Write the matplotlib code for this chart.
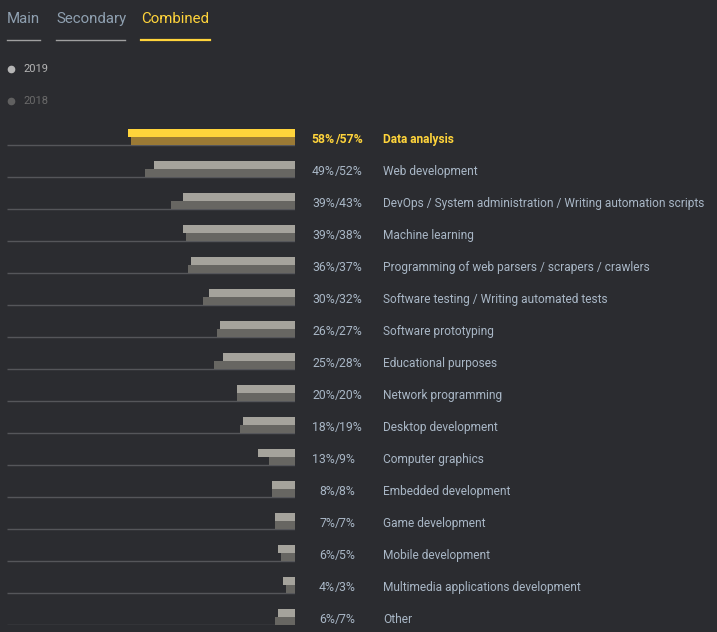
import matplotlib
matplotlib.use("Agg")
import matplotlib.pyplot as plt
from matplotlib import transforms

categories = [
    "Data analysis", "Web development",
    "DevOps / System administration / Writing automation scripts",
    "Machine learning", "Programming of web parsers / scrapers / crawlers",
    "Software testing / Writing automated tests", "Software prototyping",
    "Educational purposes", "Network programming", "Desktop development",
    "Computer graphics", "Embedded development", "Game development",
    "Mobile development", "Multimedia applications development", "Other",
]
values_2019 = [58, 49, 39, 39, 36, 30, 26, 25, 20, 18, 13, 8, 7, 6, 4, 6]
values_2018 = [57, 52, 43, 38, 37, 32, 27, 28, 20, 19, 9, 8, 7, 5, 3, 7]
tabs = ["Main", "Secondary", "Combined"]
years = ["2019", "2018"]

W, H = 717, 632
BG = "#2b2c30"
C19 = "#a5a39c"
C18 = "#676662"
Y19 = "#ffd43b"
Y18 = "#9b7a35"
TXT = "#a9b7c6"
LINE = "#55565a"

plt.rcParams["font.family"] = ["Roboto", "DejaVu Sans"]
fig = plt.figure(figsize=(W / 100, H / 100), dpi=100, facecolor=BG)

def fx(px):
    return px / W

def fy(py):
    return 1 - py / H

# Tabs
tab_x = [7, 56, 141]
tab_w = [33, 69, 69]
for i, (t, x, w) in enumerate(zip(tabs, tab_x, tab_w)):
    active = (t == "Combined")
    fig.text(fx(x), fy(19), t, fontsize=10.8, color=Y19 if active else "#8fa0b0",
             va="center", ha="left")
    fig.add_artist(plt.Line2D([fx(x), fx(x + w)], [fy(40), fy(40)],
                              color=Y19 if active else "#a0a0a0",
                              linewidth=1.6 if active else 1.0))

# Legend
for yr, py, col, tcol in zip(years, [69, 101], ["#b5b5b5", "#606060"], ["#b5b5b5", "#6a6a6a"]):
    fig.add_artist(plt.Line2D([fx(11)], [fy(py)], marker="o", markersize=4.5,
                              color=col, linestyle="none"))
    fig.text(fx(23), fy(py), yr, fontsize=8, color=tcol, va="center", ha="left")

# Bars axes: x 7..295 px, y 113..625 px
left, right, top, bottom = 7, 295, 113, 625
ax = fig.add_axes([fx(left), fy(bottom), fx(right - left), (bottom - top) / H])
ax.set_facecolor("none")
ax.set_xlim(100, 0)
n = len(categories)
ax.set_ylim(n, 0)
ax.axis("off")

rows = list(range(n))
ax.hlines([r + 1 for r in rows], 100, 0, color=LINE, linewidth=1.0, zorder=1)
c19 = [Y19] + [C19] * (n - 1)
c18 = [Y18] + [C18] * (n - 1)
ax.barh([r + 0.625 for r in rows], values_2019, height=0.25, color=c19, zorder=3, linewidth=0)
ax.barh([r + 0.875 for r in rows], values_2018, height=0.25, color=c18, zorder=2, linewidth=0)

# Labels
tr_slash = transforms.blended_transform_factory(fig.transFigure, ax.transData)
for r, (cat, v19, v18) in enumerate(zip(categories, values_2019, values_2018)):
    y = r + 0.84
    hi = (r == 0)
    col = Y19 if hi else TXT
    wt = "bold" if hi else "normal"
    ax.text(fx(335), y, f"{v19}%", transform=tr_slash, ha="right", va="center",
            fontsize=8.8, color=col, fontweight=wt)
    ax.text(fx(335), y, f"/{v18}%", transform=tr_slash, ha="left", va="center",
            fontsize=8.8, color=col, fontweight=wt)
    ax.text(fx(383), y, cat, transform=tr_slash, ha="left", va="center",
            fontsize=8.6, color=col, fontweight=wt)

fig.savefig("out.png", dpi=100, facecolor=BG)
